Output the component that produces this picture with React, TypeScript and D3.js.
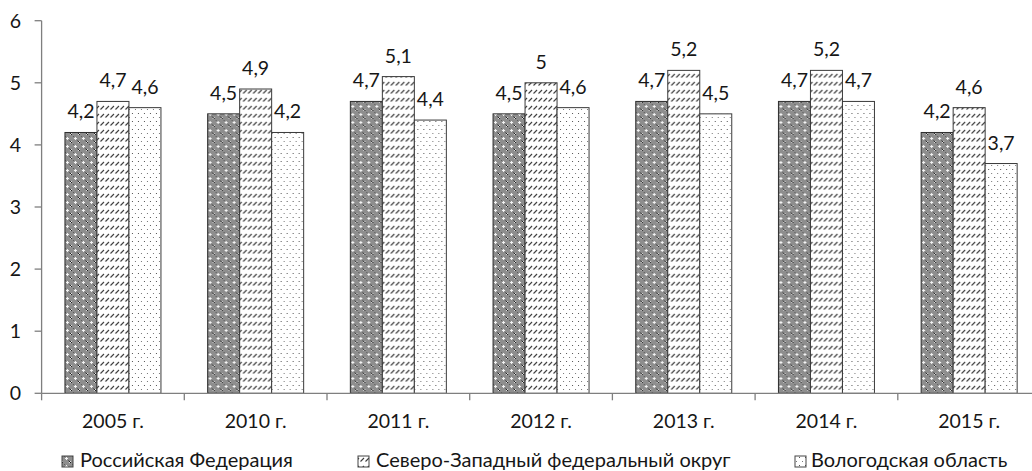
import React from "react";
import * as d3 from "d3";

const categories = ["2005 г.", "2010 г.", "2011 г.", "2012 г.", "2013 г.", "2014 г.", "2015 г."];
const seriesNames = ["Российская Федерация", "Северо-Западный федеральный округ", "Вологодская область"];
const rf = [4.2, 4.5, 4.7, 4.5, 4.7, 4.7, 4.2];
const szfo = [4.7, 4.9, 5.1, 5.0, 5.2, 5.2, 4.6];
const vologda = [4.6, 4.2, 4.4, 4.6, 4.5, 4.7, 3.7];
const yTicks = [0, 1, 2, 3, 4, 5, 6];

const W = 1032;
const H = 471;
const FONT = "Lato, 'Liberation Sans', sans-serif";

export default function App() {
  const series = [rf, szfo, vologda];
  const x0 = 41.6;
  const catW = 142.7;
  const x = d3.scaleBand<string>().domain(categories).range([x0, x0 + catW * categories.length]).paddingInner(0).paddingOuter(0);
  const y = d3.scaleLinear().domain([0, 6]).range([393.3, 20.7]);
  const barW = 32;
  const xs = d3.scaleBand<number>().domain([0, 1, 2]).range([0, barW * 3]);
  const groupOffset = (catW - barW * 3) / 2;
  const fills = ["url(#p0)", "url(#p1)", "url(#p2)"];
  const strokes = ["#2e2e2e", "#3a3a3a", "#3a3a3a"];
  const fmt = (v: number) => String(v).replace(".", ",");
  const legendMarkX = [62, 358, 795];
  const legendTextX = [80, 376, 811];
  const legendY = 467;
  const textColor = "#161616";

  return (
    <svg width={W} height={H} style={{ position: "absolute", left: 0, top: 0, background: "#fff" }}>
      <defs>
        <pattern id="p0" width="8" height="8" patternUnits="userSpaceOnUse">
          <rect width="8" height="8" fill="#8e8e8e" />
          <rect x="2" y="1" width="1" height="3" fill="#f4f4f4" />
          <rect x="1" y="2" width="3" height="1" fill="#f4f4f4" />
          <rect x="5" y="5" width="1" height="1" fill="#1a1a1a" />
          <rect x="6" y="6" width="1" height="1" fill="#1a1a1a" />
          <rect x="6" y="5" width="1" height="1" fill="#e6e6e6" />
          <rect x="5" y="6" width="1" height="1" fill="#e6e6e6" />
          <rect x="0" y="0" width="1" height="1" fill="#5c5c5c" />
          <rect x="4" y="4" width="1" height="1" fill="#5c5c5c" />
        </pattern>
        <pattern id="p1" width="5" height="8" patternUnits="userSpaceOnUse">
          <rect width="5" height="8" fill="#fff" />
          <line x1="0.5" y1="5.5" x2="4" y2="2" stroke="#3a3a3a" strokeWidth="1.1" />
        </pattern>
        <pattern id="p2" width="6" height="8" patternUnits="userSpaceOnUse">
          <rect width="6" height="8" fill="#fff" />
          <rect x="1" y="1" width="1" height="1" fill="#555" />
          <rect x="4" y="5" width="1" height="1" fill="#777" />
        </pattern>
      </defs>

      {/* bars */}
      {categories.map((c, i) => (
        <g key={c} transform={`translate(${(x(c) as number) + groupOffset},0)`}>
          {series.map((s, k) => (
            <rect
              key={k}
              x={xs(k) as number}
              y={y(s[i])}
              width={barW}
              height={y(0) - y(s[i])}
              fill={fills[k]}
              stroke={strokes[k]}
              strokeWidth={1}
            />
          ))}
          {series.map((s, k) => (
            <text
              key={"t" + k}
              x={(xs(k) as number) + barW / 2}
              y={y(s[i]) - 14}
              textAnchor="middle"
              fontFamily={FONT}
              fontSize={19.5}
              fill={textColor}
            >
              {fmt(s[i])}
            </text>
          ))}
        </g>
      ))}

      {/* y axis */}
      <line x1={x0} x2={x0} y1={y(6)} y2={y(0)} stroke="#7f7f7f" strokeWidth={1.3} />
      {yTicks.map((t) => (
        <g key={t}>
          <line x1={x0 - 7} x2={x0} y1={y(t)} y2={y(t)} stroke="#7f7f7f" strokeWidth={1.3} />
          <text x={21} y={y(t) + 7} textAnchor="end" fontFamily={FONT} fontSize={19.5} fill={textColor}>
            {t}
          </text>
        </g>
      ))}

      {/* x axis */}
      <line x1={x0} x2={W} y1={y(0)} y2={y(0)} stroke="#7f7f7f" strokeWidth={1.3} />
      {categories.map((c) => (
        <g key={"c" + c}>
          <line x1={x(c) as number} x2={x(c) as number} y1={y(0)} y2={y(0) + 7} stroke="#7f7f7f" strokeWidth={1.3} />
          <text
            x={(x(c) as number) + catW / 2}
            y={428}
            textAnchor="middle"
            fontFamily={FONT}
            fontSize={19.5}
            fill={textColor}
          >
            {c}
          </text>
        </g>
      ))}

      {/* legend */}
      {seriesNames.map((n, k) => (
        <g key={n}>
          <rect x={legendMarkX[k]} y={legendY - 11} width={11} height={11} fill={fills[k]} stroke="#444" strokeWidth={1} />
          <text x={legendTextX[k]} y={legendY} fontFamily={FONT} fontSize={20} fill={textColor}>
            {n}
          </text>
        </g>
      ))}
    </svg>
  );
}
